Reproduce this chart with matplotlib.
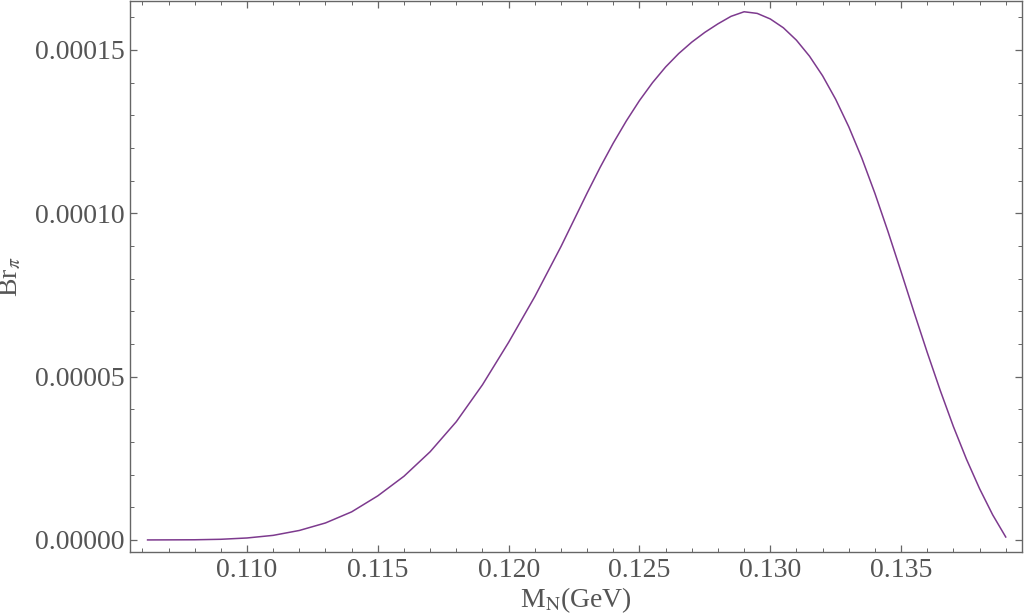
import matplotlib
matplotlib.use("Agg")
import matplotlib.pyplot as plt
import numpy as np

# M_N in GeV, Br_pi (units of 1e-5)
m_n = [0.1062, 0.1080, 0.1090, 0.1100, 0.1110, 0.1120, 0.1130, 0.1140,
       0.1150, 0.1160, 0.1170, 0.1180, 0.1190, 0.1200, 0.1210, 0.1220,
       0.1225, 0.1230, 0.1235, 0.1240, 0.1245, 0.1250, 0.1255, 0.1260,
       0.1265, 0.1270, 0.1275, 0.1280, 0.1285, 0.1290, 0.1295, 0.1300,
       0.1305, 0.1310, 0.1315, 0.1320, 0.1325, 0.1330, 0.1335, 0.1340,
       0.1345, 0.1350, 0.1355, 0.1360, 0.1365, 0.1370, 0.1375, 0.1380,
       0.1385, 0.1390]
br_pi = [0.00, 0.005, 0.02, 0.06, 0.14, 0.29, 0.52, 0.86,
         1.35, 1.95, 2.70, 3.62, 4.75, 6.05, 7.45, 8.98,
         9.80, 10.62, 11.41, 12.15, 12.83, 13.45, 14.00, 14.48,
         14.89, 15.24, 15.54, 15.80, 16.03, 16.17, 16.12, 15.95,
         15.68, 15.30, 14.81, 14.21, 13.49, 12.65, 11.69, 10.61,
         9.44, 8.21, 6.96, 5.74, 4.57, 3.47, 2.47, 1.57,
         0.77, 0.09]

x_ticks = [0.110, 0.115, 0.120, 0.125, 0.130, 0.135]
x_labels = ["0.110", "0.115", "0.120", "0.125", "0.130", "0.135"]
y_ticks = [0.0, 0.00005, 0.00010, 0.00015]
y_labels = ["0.00000", "0.00005", "0.00010", "0.00015"]

plt.rcParams['font.family'] = ['Liberation Serif', 'DejaVu Serif']
plt.rcParams['mathtext.fontset'] = 'stix'

fig = plt.figure(figsize=(10.24, 6.15), dpi=100)
ax = fig.add_axes([0.127, 0.1024, 0.871, 0.896])

ax.plot(m_n, np.array(br_pi) * 1e-5, color="#7d3a8e", lw=1.1)

ax.set_xlim(0.10553, 0.13962)
ax.set_ylim(-0.0000037, 0.000165)

ax.set_xticks(x_ticks, x_labels)
ax.set_xticks(np.arange(0.106, 0.1395, 0.001), minor=True)
ax.set_yticks(y_ticks, y_labels)
ax.set_yticks(np.arange(0.0, 0.000165, 0.00001), minor=True)

gray = "#666666"
for s in ax.spines.values():
    s.set_color(gray)
    s.set_linewidth(1.0)
ax.tick_params(which="both", direction="in", top=True, right=True,
               color=gray, labelsize=20, labelcolor="#555555", pad=4)
ax.tick_params(which="major", length=5, width=0.9)
ax.tick_params(which="minor", length=3, width=0.7)

ax.set_xlabel(r"M$_\mathrm{N}$(GeV)", fontsize=20, color="#555555", labelpad=2)
ax.set_ylabel(r"Br$_\pi$", fontsize=20, color="#555555", labelpad=8)

fig.savefig("out.png", dpi=100)
